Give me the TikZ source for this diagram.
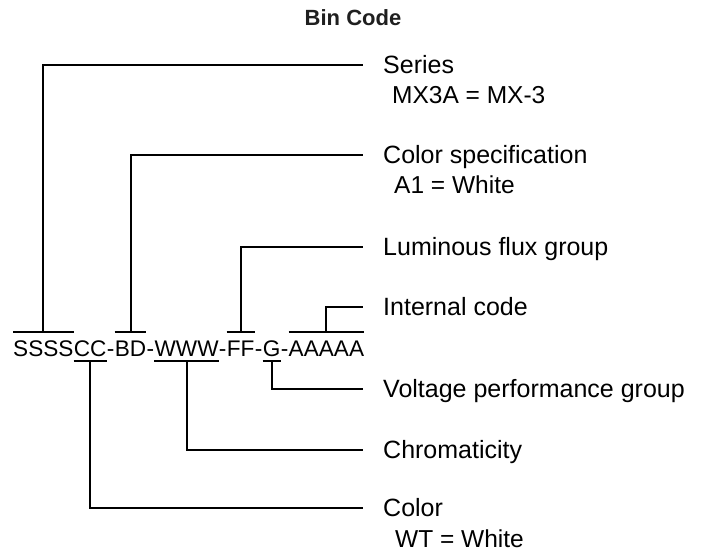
\documentclass[tikz,border=0pt]{standalone}
\usepackage{fontspec}
\setmainfont{Liberation Sans}
\usetikzlibrary{positioning}

\begin{document}
\begin{tikzpicture}[
  x=1pt, y=-1pt,
  seg/.style={inner sep=0pt, anchor=base west, text height=24pt, text depth=5pt,
              font=\fontsize{22.6}{27}\selectfont},
  lbl/.style={inner sep=0pt, anchor=west, text height=17pt, text depth=0pt,
              font=\fontsize{25}{29}\selectfont},
  sub/.style={inner sep=0pt, anchor=base west, font=\fontsize{24.5}{29}\selectfont},
  bar/.style={line width=2.1pt}
]
  \useasboundingbox (0,0) rectangle (707,554);

  \node[font=\bfseries\fontsize{22}{26}\selectfont, text=black!88] (title) at (353,18) {Bin Code};

  % the code, one node per group
  \node[seg] (sS) at (13,356) {SSSS};
  \node[seg] (sC) at (sS.base east) {CC};
  \node[seg] (h1) at (sC.base east) {-};
  \node[seg] (sB) at (h1.base east) {BD};
  \node[seg] (h2) at (sB.base east) {-};
  \node[seg] (sW) at (h2.base east) {WWW};
  \node[seg] (h3) at (sW.base east) {-};
  \node[seg] (sF) at (h3.base east) {FF};
  \node[seg] (h4) at (sF.base east) {-};
  \node[seg] (sG) at (h4.base east) {G};
  \node[seg] (h5) at (sG.base east) {-};
  \node[seg] (sA) at (h5.base east) {AAAAA};

  % labels
  \node[lbl] (series) at (383,65) {Series};
  \node[sub] (seriesval) at ([xshift=9pt, yshift=-30pt]series.base west) {MX3A = MX-3};
  \node[lbl] (spec) at (383,155) {Color specification};
  \node[sub] (specval) at ([xshift=11pt, yshift=-30pt]spec.base west) {A1 = White};
  \node[lbl] (flux) at (383,247) {Luminous flux group};
  \node[lbl] (internal) at (383,307) {Internal code};
  \node[lbl] (voltage) at (383,389) {Voltage performance group};
  \node[lbl] (chrom) at (383,450) {Chromaticity};
  \node[lbl] (color) at (383,508) {Color};
  \node[sub] (colorval) at ([xshift=12pt, yshift=-31pt]color.base west) {WT = White};

  % over and under bars
  \draw[bar] (sS.north west) -- (sS.north east);
  \draw[bar] (sB.north west) -- (sB.north east);
  \draw[bar] (sF.north west) -- (sF.north east);
  \draw[bar] (sA.north west) -- (sA.north east);
  \draw[bar] (sC.south west) -- (sC.south east);
  \draw[bar] (sW.south west) -- (sW.south east);
  \draw[bar] (sG.south west) -- (sG.south east);

  % connectors
  \draw[bar] (sS.north) |- ([xshift=-20pt]series.west);
  \draw[bar] (sB.north) |- ([xshift=-20pt]spec.west);
  \draw[bar] (sF.north) |- ([xshift=-20pt]flux.west);
  \draw[bar] (sA.north) |- ([xshift=-20pt]internal.west);
  \draw[bar] (sG.south) |- ([xshift=-20pt]voltage.west);
  \draw[bar] (sW.south) |- ([xshift=-20pt]chrom.west);
  \draw[bar] (sC.south) |- ([xshift=-20pt]color.west);
\end{tikzpicture}
\end{document}
